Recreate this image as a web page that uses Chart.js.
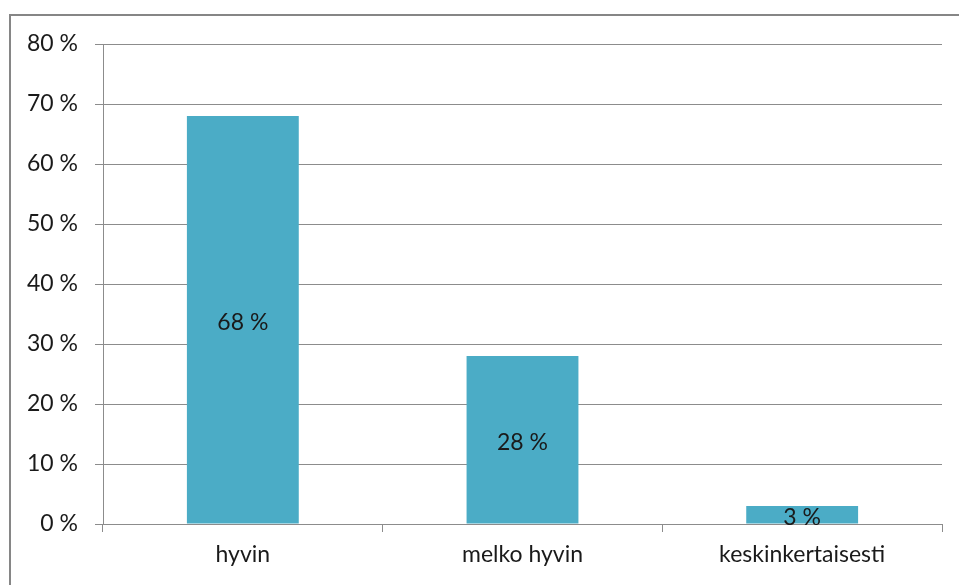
<!DOCTYPE html>
<html>
<head>
<meta charset="utf-8">
<script src="https://cdn.jsdelivr.net/npm/chart.js@4"></script>
<style>
  html, body { margin: 0; padding: 0; background: #fff; }
  #wrap { width: 959px; height: 585px; }
</style>
</head>
<body>
<div id="wrap"><canvas id="chart" width="959" height="585"></canvas></div>
<script>
// data
const categories = ["hyvin", "melko hyvin", "keskinkertaisesti"];
const shares = [68, 28, 3];
const yTicks = [0, 10, 20, 30, 40, 50, 60, 70, 80];

const FONT = "Lato, 'Open Sans', sans-serif";
const FONT_SIZE = 23;
const GRID = "#8c8c8c";

// outer frame like the office chart border
const framePlugin = {
  id: "frame",
  beforeDraw(chart) {
    const ctx = chart.ctx;
    ctx.save();
    ctx.strokeStyle = "#868686";
    ctx.lineWidth = 2;
    ctx.strokeRect(10, 15, 1200, 1200);
    ctx.restore();
  }
};

// value labels in the middle of each bar
const labelPlugin = {
  id: "barLabels",
  afterDatasetsDraw(chart) {
    const ctx = chart.ctx;
    const meta = chart.getDatasetMeta(0);
    ctx.save();
    ctx.font = FONT_SIZE + "px " + FONT;
    ctx.fillStyle = "#1a1a1a";
    ctx.textAlign = "center";
    ctx.textBaseline = "middle";
    meta.data.forEach((bar, i) => {
      const mid = (bar.y + bar.base) / 2;
      ctx.fillText(shares[i] + " %", bar.x, mid + 3);
    });
    ctx.restore();
  }
};

new Chart(document.getElementById("chart"), {
  type: "bar",
  data: {
    labels: categories,
    datasets: [{
      data: shares,
      backgroundColor: "#4bacc6",
      borderWidth: 0,
      barPercentage: 0.4,
      categoryPercentage: 1
    }]
  },
  options: {
    responsive: false,
    animation: false,
    layout: { padding: { top: 44, right: 17, left: 0, bottom: 0 } },
    plugins: { legend: { display: false }, tooltip: { enabled: false } },
    scales: {
      x: {
        offset: true,
        grid: { offset: true, drawOnChartArea: false, color: GRID, tickLength: 8 },
        border: { color: GRID, width: 1 },
        ticks: { color: "#1a1a1a", font: { family: FONT, size: FONT_SIZE }, padding: 9 },
        afterFit(scale) { scale.height = 61; }
      },
      y: {
        min: 0,
        max: 80,
        afterBuildTicks(scale) { scale.ticks = yTicks.map(v => ({ value: v })); },
        grid: { color: GRID, tickLength: 8 },
        border: { color: GRID, width: 1 },
        ticks: {
          color: "#1a1a1a",
          font: { family: FONT, size: FONT_SIZE },
          padding: 17,
          callback: v => v + " %"
        },
        afterFit(scale) { scale.width = 103; }
      }
    }
  },
  plugins: [framePlugin, labelPlugin]
});
</script>
</body>
</html>
